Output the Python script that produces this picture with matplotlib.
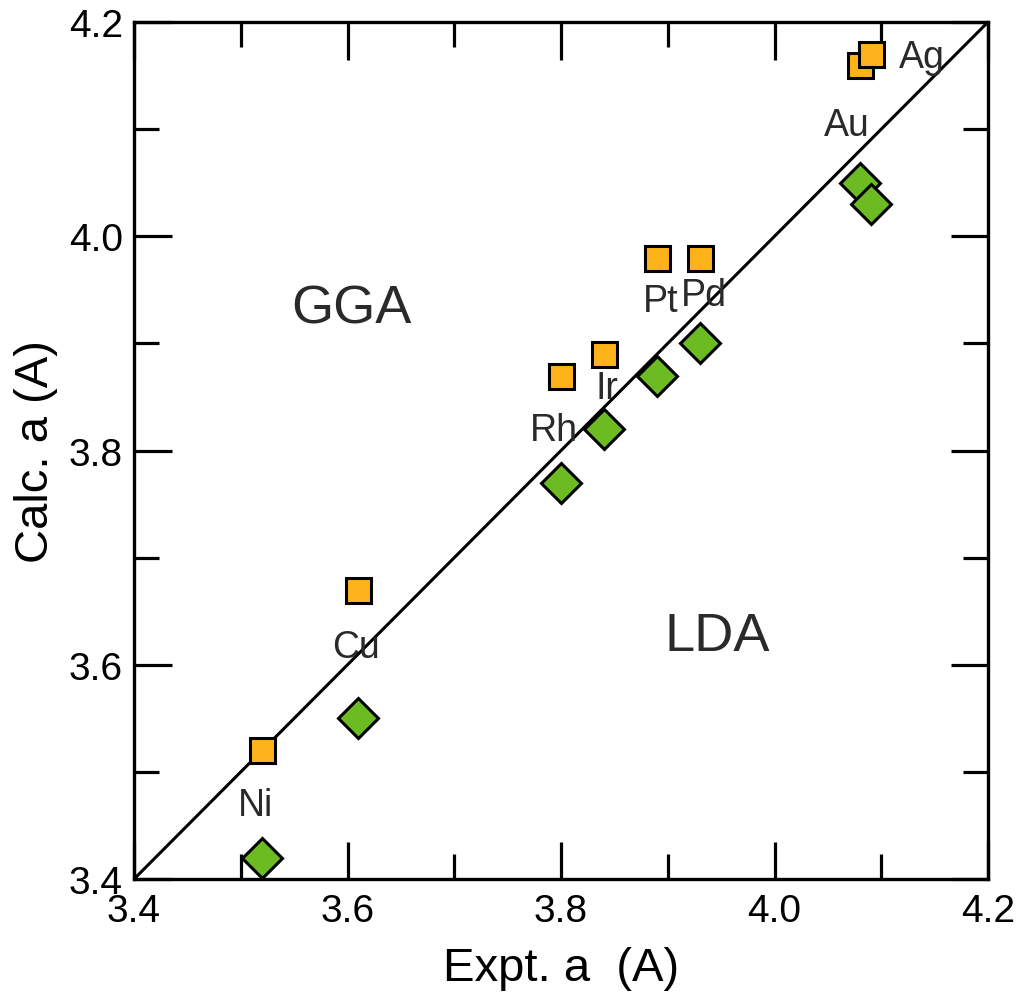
import matplotlib
matplotlib.use("Agg")
import matplotlib.pyplot as plt
from matplotlib.ticker import MultipleLocator

plt.rcParams['font.family'] = ['Liberation Sans', 'DejaVu Sans']

elements = ["Ni", "Cu", "Rh", "Ir", "Pt", "Pd", "Au", "Ag"]
expt = [3.52, 3.61, 3.80, 3.84, 3.89, 3.93, 4.08, 4.09]
gga = [3.52, 3.67, 3.87, 3.89, 3.98, 3.98, 4.16, 4.17]
lda = [3.42, 3.55, 3.77, 3.82, 3.87, 3.90, 4.05, 4.03]
label_x = [3.514, 3.608, 3.793, 3.843, 3.893, 3.934, 4.068, 4.138]
label_y = [3.469, 3.617, 3.819, 3.858, 3.940, 3.945, 4.104, 4.167]

fig = plt.figure(figsize=(10.24, 10.03), dpi=100)
ax = fig.add_axes([0.1309, 0.1226, 0.834, 0.8545])

ax.plot([3.4, 4.2], [3.4, 4.2], color='black', lw=2.2, zorder=1)
ax.plot(expt, lda, linestyle='none', marker='D', markersize=20,
        markerfacecolor='#6CBB23', markeredgecolor='black', markeredgewidth=2.2, zorder=3)
ax.plot(expt, gga, linestyle='none', marker='s', markersize=18,
        markerfacecolor='#FFB31A', markeredgecolor='black', markeredgewidth=2.2, zorder=3)

for name, lx, ly in zip(elements, label_x, label_y):
    ax.text(lx, ly, name, fontsize=27, ha='center', va='center', color='#2a2a2a', zorder=4)

ax.text(3.604, 3.933, "GGA", fontsize=39, ha='center', va='center', color='#2a2a2a')
ax.text(3.946, 3.627, "LDA", fontsize=39, ha='center', va='center', color='#2a2a2a')

ax.set_xlim(3.4, 4.2)
ax.set_ylim(3.4, 4.2)
ax.xaxis.set_major_locator(MultipleLocator(0.2))
ax.yaxis.set_major_locator(MultipleLocator(0.2))
ax.xaxis.set_minor_locator(MultipleLocator(0.1))
ax.yaxis.set_minor_locator(MultipleLocator(0.1))
ax.tick_params(which='both', direction='in', top=True, right=True, width=2.3, colors='black')
ax.tick_params(which='major', length=27, labelsize=28, pad=10)
ax.tick_params(which='minor', length=18)
ax.tick_params(axis='y', which='major', pad=8)
for s in ax.spines.values():
    s.set_linewidth(2.4)

ax.set_xlabel("Expt. a  (A)", fontsize=34, labelpad=12)
ax.set_ylabel("Calc. a (A)", fontsize=34, labelpad=8)

fig.savefig("out.png", dpi=100)
